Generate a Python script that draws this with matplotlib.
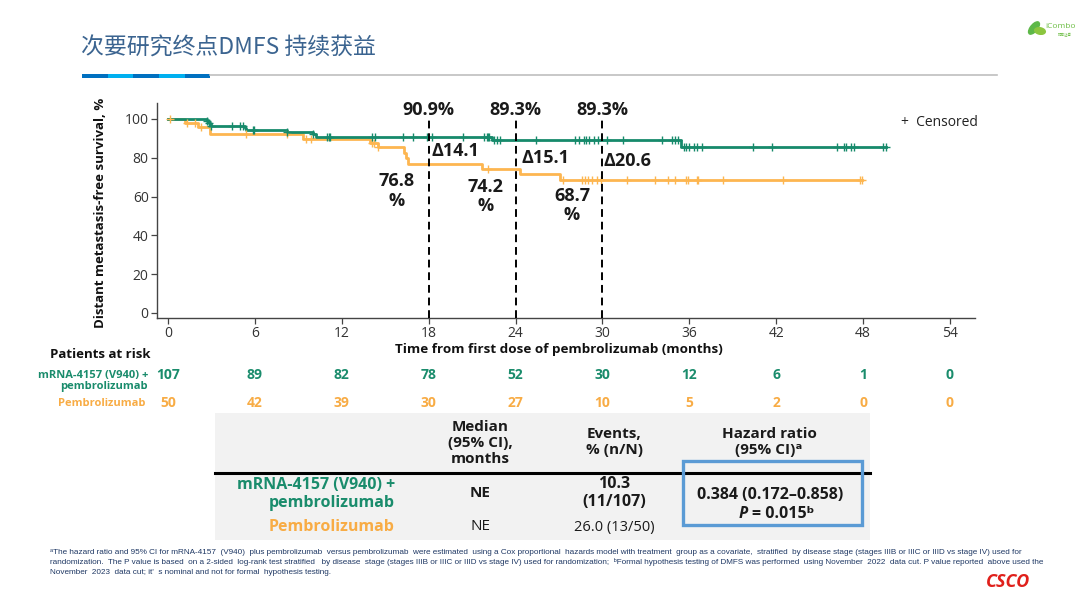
import numpy as np
import matplotlib
matplotlib.use("Agg")
import matplotlib.pyplot as plt
from matplotlib.patches import Rectangle, Ellipse
from matplotlib.lines import Line2D
import matplotlib.transforms as mtransforms

plt.rcParams['font.family'] = ['Open Sans', 'Noto Sans CJK SC', 'DejaVu Sans']

# ---------------- data ----------------
green_times = [0, 2.7, 2.8, 2.9, 3.0, 5.3, 5.4, 8.2, 10.0, 10.2, 22.4, 35.4]
green_surv = [100, 99.1, 98.1, 97.2, 96.3, 95.3, 94.4, 93.5, 92.2, 90.9, 89.3, 85.6]
green_end = 49.6
green_censor = [2.7, 2.85, 3.0, 4.4, 5.0, 5.2, 5.9, 5.96, 8.2, 10.0, 11.0, 11.1, 11.2,
                14.07, 14.3, 16.2, 16.9, 17.9, 18.2, 20.4, 21.8, 22.0, 22.1, 22.2, 22.5,
                22.7, 22.9, 25.4, 28.1, 28.4, 28.7, 28.9, 29.1, 29.4, 29.7, 30.3, 31.4,
                34.1, 34.8, 35.0, 35.2, 35.6, 35.8, 36.0, 36.3, 36.5, 36.9, 40.4, 41.7,
                46.2, 46.7, 46.8, 47.2, 47.4, 49.4]

orange_times = [0, 1.2, 2.1, 2.9, 9.3, 13.95, 14.5, 16.3, 16.45, 16.6, 21.7, 24.3, 27.1]
orange_surv = [100, 98.0, 96.0, 92.0, 89.8, 87.5, 85.3, 82.6, 79.7, 76.8, 74.2, 71.7, 68.7]
orange_end = 47.9
orange_censor = [0.14, 1.3, 1.86, 2.3, 5.4, 8.2, 9.5, 9.9, 14.07, 14.2, 14.5, 22.1, 27.3,
                 28.6, 28.8, 29.0, 29.3, 29.6, 29.9, 31.7, 33.6, 34.5, 35.0, 35.8, 35.9,
                 36.5, 36.6, 38.3, 42.5, 47.8]

landmark_months = [18, 24, 30]
landmark_green = ["90.9%", "89.3%", "89.3%"]
landmark_orange = ["76.8\n%", "74.2\n%", "68.7\n%"]
landmark_delta = ["Δ14.1", "Δ15.1", "Δ20.6"]

x_ticks = [0, 6, 12, 18, 24, 30, 36, 42, 48, 54]
y_ticks = [0, 20, 40, 60, 80, 100]
risk_green = [107, 89, 82, 78, 52, 30, 12, 6, 1, 0]
risk_orange = [50, 42, 39, 30, 27, 10, 5, 2, 0, 0]

tbl_headers = ["Median\n(95% CI),\nmonths", "Events,\n% (n/N)", "Hazard ratio\n(95% CI)ᵃ"]
tbl_arms = ["mRNA-4157 (V940) +\npembrolizumab", "Pembrolizumab"]
tbl_median = ["NE", "NE"]
tbl_events = ["10.3\n(11/107)", "26.0 (13/50)"]
tbl_hr = ["0.384 (0.172–0.858)", "= 0.015ᵇ"]

GREEN = '#168A6B'
ORANGE = '#FDB650'
GREEN_T = '#1A8C6C'
ORANGE_T = '#F8AC45'
TXT = '#1a1a1a'

W, H = 1080, 608
fig = plt.figure(figsize=(W / 100, H / 100), dpi=100)
fig.patch.set_facecolor('white')


def fx(px):
    return px / W


def fy(py):
    return 1 - py / H


# ---------------- header decoration ----------------
fig.text(fx(81), fy(48), "次要研究终点DMFS 持续获益", fontsize=16.5, color='#3B6490',
         va='center', ha='left', family=['Noto Sans CJK SC', 'DejaVu Sans'])
seg_edges = [81.7, 107.6, 133, 159, 185, 210]
seg_cols = ['#0070C0', '#00B0F0', '#0070C0', '#00B0F0', '#0070C0']
for i, c in enumerate(seg_cols):
    fig.add_artist(Rectangle((fx(seg_edges[i]), fy(78)), fx(seg_edges[i + 1] - seg_edges[i]),
                             4.5 / H, color=c, lw=0, transform=fig.transFigure))
fig.add_artist(Line2D([fx(210), fx(997)], [fy(74.5), fy(74.5)], color='#BFBFBF', lw=1.2,
                      transform=fig.transFigure))
# iCombo logo
fig.add_artist(Ellipse((fx(1034), fy(28)), 8 / W, 13 / H, angle=-20, color='#5DB848',
                       transform=fig.transFigure))
fig.add_artist(Ellipse((fx(1040), fy(31)), 10 / W, 7 / H, angle=30, color='#8CC63F',
                       transform=fig.transFigure))
fig.text(fx(1045), fy(27), "iCombo", fontsize=6, color='#6DBE45', va='center', ha='left')
fig.text(fx(1058), fy(35), "招商证券", fontsize=2.5, color='#6DBE45', va='center', ha='left',
         family=['Noto Sans CJK SC'])

# ---------------- KM axes ----------------
ax = fig.add_axes([fx(157), fy(318), (975 - 157) / W, (318 - 103) / H])
ax.set_xlim(-0.76, 55.73)
ax.set_ylim(-2.58, 108.2)
for s in ['top', 'right']:
    ax.spines[s].set_visible(False)
for s in ['left', 'bottom']:
    ax.spines[s].set_color('#444444')
    ax.spines[s].set_linewidth(1.0)
ax.set_xticks(x_ticks)
ax.set_yticks(y_ticks)
ax.tick_params(axis='both', direction='out', length=4, width=0.9, color='#444444',
               labelsize=10, labelcolor='#333333', pad=2)


def step_val(times, surv, t):
    idx = np.searchsorted(times, t, side='right') - 1
    return np.asarray(surv)[idx]


for times, surv, end, cens, col in [
        (orange_times, orange_surv, orange_end, orange_censor, ORANGE),
        (green_times, green_surv, green_end, green_censor, GREEN)]:
    tt = np.append(times, end)
    ss = np.append(surv, surv[-1])
    ax.step(tt, ss, where='post', color=col, lw=2.0, zorder=3)
    cs = [step_val(times, surv, c) for c in cens]
    ax.plot(cens, cs, linestyle='none', marker='+', markersize=6, mew=1.0, color=col, zorder=4)
    ax.plot([end], [surv[-1]], linestyle='none', marker='+', markersize=6, mew=1.0, color=col, zorder=4)

ax.vlines(landmark_months, -2.58, 99.5, colors='black', linestyles=(0, (4, 2.5)), lw=1.4,
          zorder=5, clip_on=False)

delta_pos = [(18.23, 83.5), (24.4, 79.9), (30.05, 78.4)]
orange_pos = [(15.8, 62.9), (21.96, 60.0), (27.9, 55.4)]
for i, m in enumerate(landmark_months):
    ax.text(m, 104.5, landmark_green[i], ha='center', va='center', fontsize=13,
            fontweight='bold', color=TXT, clip_on=False, zorder=6)
    ax.text(delta_pos[i][0], delta_pos[i][1], landmark_delta[i], ha='left', va='center',
            fontsize=13, fontweight='bold', color=TXT, zorder=6)
    ax.text(orange_pos[i][0], orange_pos[i][1], landmark_orange[i], ha='center', va='center',
            fontsize=13, fontweight='bold', color=TXT, linespacing=1.1, zorder=6)

ax.text(55.9, 98.0, "+  Censored", ha='right', va='center', fontsize=10, color='#222222',
        clip_on=False)

fig.text(fx(100), fy(213), "Distant metastasis-free survival, %", rotation=90, ha='center',
         va='center', fontsize=9.5, fontweight='bold', color='#111111')
fig.text(fx(559), fy(350), "Time from first dose of pembrolizumab (months)", ha='center',
         va='center', fontsize=9.7, fontweight='bold', color='#111111')

# ---------------- patients at risk ----------------
trans = mtransforms.blended_transform_factory(ax.transData, fig.transFigure)
fig.text(fx(100), fy(354), "Patients at risk", ha='center', va='center', fontsize=9.5,
         fontweight='bold', color='#111111')
fig.text(fx(148), fy(381), "mRNA-4157 (V940) +\npembrolizumab", ha='right', va='center',
         fontsize=8, fontweight='bold', color=GREEN_T, linespacing=1.0)
fig.text(fx(145), fy(403), "Pembrolizumab", ha='right', va='center', fontsize=8,
         fontweight='bold', color=ORANGE_T)
for m, g, o in zip(x_ticks, risk_green, risk_orange):
    ax.text(m, fy(375), str(g), transform=trans, ha='center', va='center', fontsize=10,
            fontweight='bold', color=GREEN_T, clip_on=False)
    ax.text(m, fy(403), str(o), transform=trans, ha='center', va='center', fontsize=10,
            fontweight='bold', color=ORANGE_T, clip_on=False)

# ---------------- summary table ----------------
fig.add_artist(Rectangle((fx(215), fy(540)), fx(870 - 215), (540 - 413) / H,
                         color='#F2F2F2', lw=0, transform=fig.transFigure, zorder=0))
fig.add_artist(Line2D([fx(215), fx(870)], [fy(472.5), fy(472.5)], color='black', lw=2.2,
                      transform=fig.transFigure))
fig.add_artist(Rectangle((fx(683), fy(525)), fx(862 - 683), (525 - 461) / H, fill=False,
                         edgecolor='#5B9BD5', lw=2.4, transform=fig.transFigure, zorder=5))
col_x = [480, 614, 769]
head_y = [443, 442, 442]
for x, y, h in zip(col_x, head_y, tbl_headers):
    fig.text(fx(x), fy(y), h, ha='center', va='center', fontsize=11, fontweight='bold',
             color=TXT, linespacing=1.15)
fig.text(fx(395), fy(494), tbl_arms[0], ha='right', va='center', fontsize=11.5,
         fontweight='bold', color=GREEN_T, linespacing=1.1)
fig.text(fx(395), fy(527), tbl_arms[1], ha='right', va='center', fontsize=11.5,
         fontweight='bold', color=ORANGE_T)
fig.text(fx(col_x[0]), fy(493), tbl_median[0], ha='center', va='center', fontsize=11,
         fontweight='bold', color=TXT)
fig.text(fx(col_x[0]), fy(527), tbl_median[1], ha='center', va='center', fontsize=11,
         color=TXT)
fig.text(fx(col_x[1]), fy(493), tbl_events[0], ha='center', va='center', fontsize=11.5,
         fontweight='bold', color=TXT, linespacing=1.15)
fig.text(fx(col_x[1]), fy(527), tbl_events[1], ha='center', va='center', fontsize=10.5,
         color=TXT)
fig.text(fx(770), fy(495), tbl_hr[0], ha='center', va='center', fontsize=11.5,
         fontweight='bold', color=TXT)
fig.text(fx(748), fy(514), "P", ha='right', va='center', fontsize=11.5, fontweight='bold',
         style='italic', color=TXT)
fig.text(fx(752), fy(514), tbl_hr[1], ha='left', va='center', fontsize=11.5,
         fontweight='bold', color=TXT)

# ---------------- footnote ----------------
foot = [
    "ᵃThe hazard ratio and 95% CI for mRNA-4157  (V940)  plus pembrolizumab  versus pembrolizumab  were estimated  using a Cox proportional  hazards model with treatment  group as a covariate,  stratified  by disease stage (stages IIIB or IIIC or IIID vs stage IV) used for",
    "randomization.  The P value is based  on a 2-sided  log-rank test stratified   by disease  stage (stages IIIB or IIIC or IIID vs stage IV) used for randomization;  ᵇFormal hypothesis testing of DMFS was performed  using November  2022  data cut. P value reported  above used the",
    "November  2023  data cut; it'  s nominal and not for formal  hypothesis testing.",
]
for i, line in enumerate(foot):
    fig.text(fx(50), fy(552 + i * 10.5), line, ha='left', va='center', fontsize=5.9,
             color='#1F3864', family=['Liberation Sans', 'DejaVu Sans'])

# CSCO logo
fig.text(fx(1008), fy(582), "CSCO", ha='center', va='center', fontsize=13, fontweight='bold',
         style='italic', color='#E0201B')

fig.savefig("out.png", dpi=100)
